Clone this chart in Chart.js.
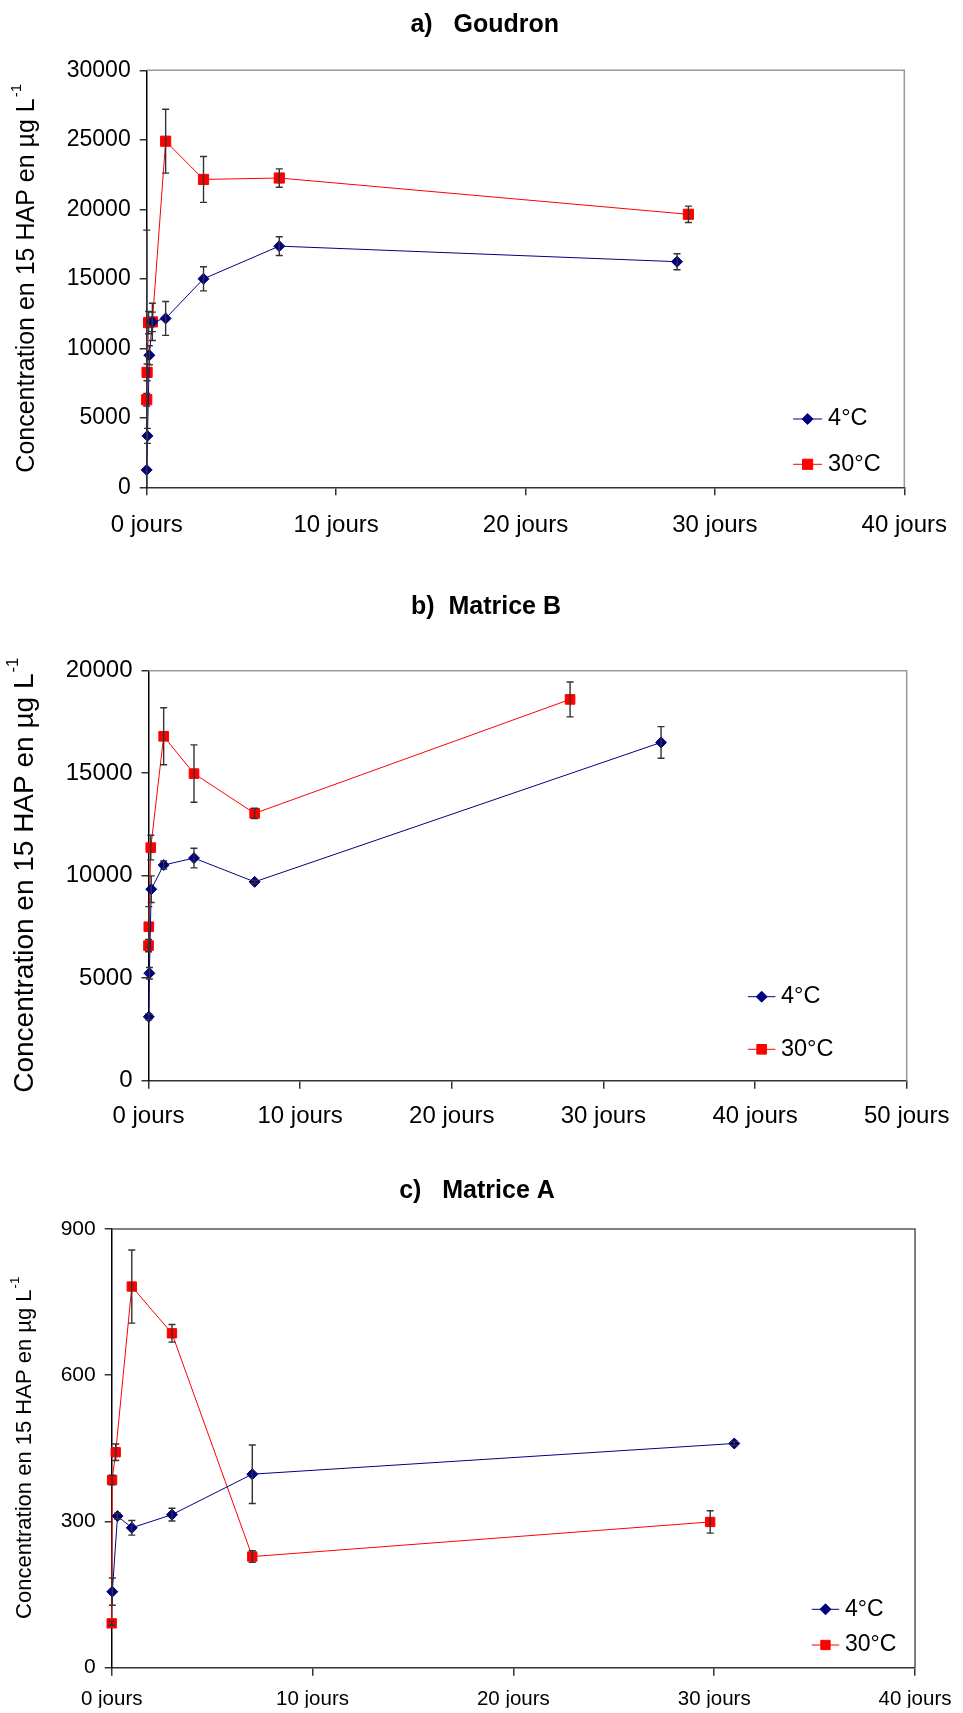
<!DOCTYPE html>
<html>
<head>
<meta charset="utf-8">
<script src="https://cdn.jsdelivr.net/npm/chart.js@4.4.1/dist/chart.umd.min.js"></script>
<style>
    body { margin: 0; background: #fff; }
    canvas { position: absolute; left: 0; }
</style>
</head>
<body>
<canvas id="chartA" width="963" height="560" style="top:0px"></canvas>
<canvas id="chartB" width="963" height="590" style="top:560px"></canvas>
<canvas id="chartC" width="963" height="563" style="top:1150px"></canvas>
<script>
// a) Goudron
const daysA4 = [0, 0.04, 0.14, 0.3, 1, 3, 7, 28];
const concA4 = [1250, 3700, 9500, 11900, 12150, 15000, 17350, 16230];
const errA4 = [17250, 540, 680, 1340, 1220, 870, 670, 575];
const daysA30 = [0, 0.02, 0.1, 0.3, 1, 3, 7, 28.6];
const concA30 = [6300, 8270, 11850, 11900, 24900, 22150, 22250, 19640];
const errA30 = [450, 600, 800, 700, 2300, 1650, 660, 590];

// b) Matrice B
const daysB4 = [0.02, 0.06, 0.18, 1, 3, 7, 33.8];
const concB4 = [3120, 5240, 9340, 10520, 10860, 9700, 16500];
const errB4 = [150, 280, 650, 200, 480, 80, 770];
const daysB30 = [0, 0.02, 0.15, 1, 3, 7, 27.8];
const concB30 = [6590, 7510, 11370, 16800, 14980, 13040, 18600];
const errB30 = [300, 980, 600, 1390, 1400, 250, 850];

// c) Matrice A
const daysC4 = [0.03, 0.29, 1, 3, 7, 31];
const concC4 = [156, 311, 287, 314, 397, 460];
const errC4 = [28, 6, 15, 13, 60, 4];
const daysC30 = [0, 0.02, 0.2, 1, 3, 7, 29.8];
const concC30 = [91, 385, 442, 782, 686, 228, 299];
const errC30 = [4, 10, 17, 75, 18, 12, 23];

const seriesLabels = ['4°C', '30°C'];
const yTitle = 'Concentration en 15 HAP en µg L';

const FONT = "'Liberation Sans', Arial, sans-serif";
const blue = '#000080';
const red = '#ff0000';

Chart.defaults.font.family = FONT;
Chart.defaults.color = '#000';

// grey top/right border of the plot
const frame = {
    id: 'frame',
    beforeDatasetsDraw(chart, args, opts) {
        const { ctx, chartArea: a } = chart;
        ctx.save();
        ctx.strokeStyle = opts.color;
        ctx.lineWidth = 1.5;
        ctx.beginPath();
        ctx.moveTo(a.left, a.top);
        ctx.lineTo(a.right, a.top);
        ctx.lineTo(a.right, a.bottom);
        ctx.stroke();
        ctx.restore();
    }
};

const errorBars = {
    id: 'errorBars',
    afterDatasetsDraw(chart) {
        const { ctx, chartArea: a, scales: { y } } = chart;
        ctx.save();
        ctx.beginPath();
        ctx.rect(a.left - 20, a.top, a.right - a.left + 40, a.bottom - a.top);
        ctx.clip();
        ctx.strokeStyle = '#333';
        ctx.lineWidth = 1.4;
        chart.data.datasets.forEach((ds, i) => {
            chart.getDatasetMeta(i).data.forEach((pt, j) => {
                const err = ds.errors[j];
                if (!err) return;
                const v = ds.data[j].y;
                const top = y.getPixelForValue(v + err);
                const bot = y.getPixelForValue(v - err);
                ctx.beginPath();
                ctx.moveTo(pt.x, top); ctx.lineTo(pt.x, bot);
                ctx.moveTo(pt.x - 3.5, top); ctx.lineTo(pt.x + 3.5, top);
                ctx.moveTo(pt.x - 3.5, bot); ctx.lineTo(pt.x + 3.5, bot);
                ctx.stroke();
            });
        });
        ctx.restore();
    }
};

const insideLegend = {
    id: 'insideLegend',
    afterDraw(chart, args, opts) {
        const { ctx, chartArea: a } = chart;
        ctx.save();
        ctx.font = `${opts.size}px ${FONT}`;
        ctx.textBaseline = 'middle';
        ctx.textAlign = 'left';
        const x0 = a.right - opts.dx;
        chart.data.datasets.forEach((ds, i) => {
            const y = a.bottom - opts.rows[i];
            ctx.strokeStyle = ds.borderColor;
            ctx.fillStyle = ds.backgroundColor;
            ctx.lineWidth = 1;
            ctx.beginPath();
            ctx.moveTo(x0, y);
            ctx.lineTo(x0 + opts.lineLen, y);
            ctx.stroke();
            Chart.helpers.drawPoint(ctx, { pointStyle: ds.pointStyle, radius: ds.pointRadius, borderWidth: 1, rotation: 0 }, x0 + opts.lineLen / 2, y);
            ctx.fillStyle = '#000';
            ctx.fillText(ds.label, x0 + opts.textOffset, y);
        });
        ctx.restore();
    }
};

const panelText = {
    id: 'panelText',
    afterDraw(chart, args, opts) {
        const { ctx, chartArea: a } = chart;
        ctx.save();
        ctx.fillStyle = '#000';
        ctx.font = `bold ${opts.titleSize}px ${FONT}`;
        ctx.textAlign = 'center';
        ctx.textBaseline = 'middle';
        ctx.fillText(opts.title, opts.titleX, opts.titleY);

        // rotated axis title with superscript -1
        const s = opts.ySize;
        ctx.translate(opts.yTitleX, (a.top + a.bottom) / 2);
        ctx.rotate(-Math.PI / 2);
        ctx.font = `${s}px ${FONT}`;
        const w1 = ctx.measureText(yTitle).width;
        ctx.font = `${s * 0.6}px ${FONT}`;
        const w2 = ctx.measureText('-1').width;
        const x = -(w1 + w2) / 2;
        ctx.textAlign = 'left';
        ctx.font = `${s}px ${FONT}`;
        ctx.fillText(yTitle, x, 0);
        ctx.font = `${s * 0.6}px ${FONT}`;
        ctx.fillText('-1', x + w1 + 1, -s * 0.42);
        ctx.restore();
    }
};

const series = (label, xs, ys, errs, color, style, radius) => ({
    label,
    data: xs.map((x, i) => ({ x, y: ys[i] })),
    errors: errs,
    borderColor: color,
    backgroundColor: color,
    borderWidth: 1,
    pointStyle: style,
    pointRadius: radius,
    pointBorderWidth: 1,
    showLine: true,
    tension: 0,
    clip: false,
});

const createPanel = (canvasId, p) => {
    const canvas = document.getElementById(canvasId);
    if (!canvas) {
        return;
    }
    return new Chart(canvas, {
        type: 'scatter',
        data: {
            datasets: [
                series(seriesLabels[0], p.x4, p.y4, p.e4, blue, 'rectRot', 5.5),
                series(seriesLabels[1], p.x30, p.y30, p.e30, red, 'rect', p.sq),
            ]
        },
        options: {
            responsive: false,
            animation: false,
            devicePixelRatio: 1,
            layout: { padding: { left: 0, top: p.top, right: p.right, bottom: p.bottom } },
            scales: {
                x: {
                    type: 'linear',
                    min: 0,
                    max: p.xMax,
                    afterFit: (scale) => { scale.height = p.xHeight; },
                    ticks: {
                        stepSize: 10,
                        padding: p.xPad,
                        maxRotation: 0,
                        font: { size: p.xFont },
                        callback: (v) => v + ' jours',
                    },
                    grid: { drawOnChartArea: false, drawTicks: true, tickLength: 8, color: '#333', lineWidth: 1.5 },
                    border: { display: true, color: '#333', width: 1.5 },
                },
                y: {
                    min: 0,
                    max: p.yMax,
                    afterFit: (scale) => { scale.width = p.left; },
                    ticks: {
                        stepSize: p.yStep,
                        padding: 9,
                        font: { size: p.yFont },
                        callback: (v) => String(v),
                    },
                    grid: { drawOnChartArea: false, drawTicks: true, tickLength: 7, color: '#333', lineWidth: 1.5 },
                    border: { display: true, color: '#000', width: 1.5 },
                },
            },
            plugins: {
                legend: { display: false },
                tooltip: { enabled: false },
                frame: { color: p.frameColor },
                insideLegend: p.legend,
                panelText: p.text,
            }
        },
        plugins: [frame, errorBars, insideLegend, panelText],
    });
};

createPanel('chartA', {
    x4: daysA4, y4: concA4, e4: errA4,
    x30: daysA30, y30: concA30, e30: errA30,
    xMax: 40, yMax: 30000, yStep: 5000, sq: 7.2,
    left: 146.7, right: 43.5, top: 70.3, bottom: 12.7, xHeight: 60,
    xPad: 16, xFont: 24, yFont: 23,
    frameColor: '#9a9a9a',
    legend: { dx: 111.2, rows: [68.3, 23], lineLen: 29, textOffset: 35, size: 23.5 },
    text: { title: 'a)   Goudron', titleX: 484.7, titleY: 25, titleSize: 25, yTitleX: 27, ySize: 25 },
});

createPanel('chartB', {
    x4: daysB4, y4: concB4, e4: errB4,
    x30: daysB30, y30: concB30, e30: errB30,
    xMax: 50, yMax: 20000, yStep: 5000, sq: 6.8,
    left: 148.5, right: 46.5, top: 110.7, bottom: 14.3, xHeight: 55,
    xPad: 13.6, xFont: 24, yFont: 24,
    frameColor: '#9a9a9a',
    legend: { dx: 158.8, rows: [84, 31.4], lineLen: 27.5, textOffset: 33, size: 23.5 },
    text: { title: 'b)  Matrice B', titleX: 486, titleY: 47, titleSize: 25, yTitleX: 25, ySize: 28 },
});

createPanel('chartC', {
    x4: daysC4, y4: concC4, e4: errC4,
    x30: daysC30, y30: concC30, e30: errC30,
    xMax: 40, yMax: 900, yStep: 300, sq: 6.6,
    left: 111.7, right: 38, top: 79, bottom: 5.3, xHeight: 40,
    xPad: 11.5, xFont: 20.5, yFont: 21,
    frameColor: '#555',
    legend: { dx: 103.3, rows: [58.4, 22.7], lineLen: 27.5, textOffset: 33.3, size: 23 },
    text: { title: 'c)   Matrice A', titleX: 477, titleY: 41, titleSize: 25, yTitleX: 25, ySize: 22 },
});
</script>
</body>
</html>
